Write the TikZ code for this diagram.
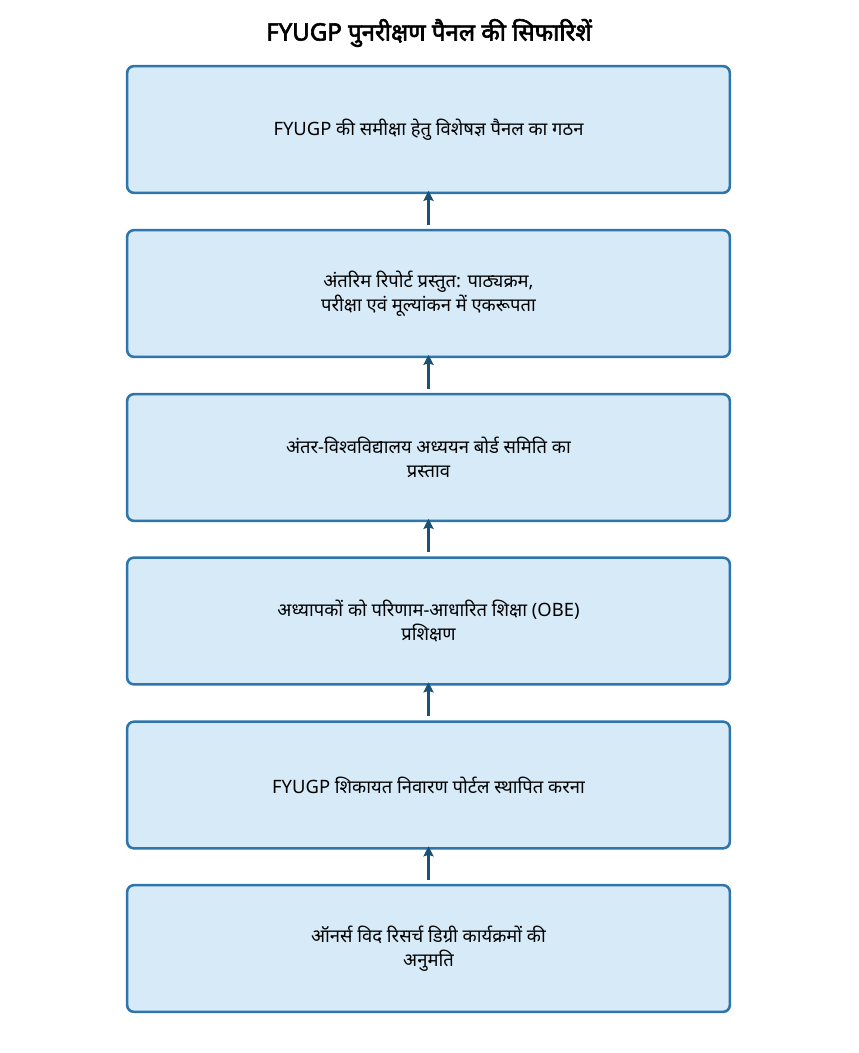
\documentclass[tikz,border=0pt]{standalone}
\usepackage{fontspec}
\setmainfont[Script=Devanagari]{Noto Sans}
\newfontfamily\titlefont[Script=Devanagari, FakeBold=2.6]{Noto Sans}
\usepackage{tikz}
\usetikzlibrary{arrows.meta}
\definecolor{stepblue}{RGB}{46, 117, 172}
\definecolor{stepfill}{RGB}{214, 234, 248}
\definecolor{arrowblue}{RGB}{26, 82, 118}

\tikzset{
  recbox/.style={draw=stepblue, fill=stepfill, line width=1.9pt, rounded corners=5pt, minimum width=452pt, minimum height=95pt, align=center, font=\fontsize{13.8}{18}\selectfont},
  uparrow/.style={-{Stealth[length=7.5pt, width=7.5pt, inset=1pt]}, line width=2.2pt, arrowblue}
}

\begin{document}
\begin{tikzpicture}[x=0.75pt, y=-0.75pt]
  \useasboundingbox (0, 0) rectangle (858, 1053);

  % Title
  \node[font=\titlefont\fontsize{18}{20}\selectfont] (title) at (429, 33) {FYUGP पुनरीक्षण पैनल की सिफारिशें};

  % Steps
  \node[recbox] (panel) at (428.5, 129.5) {FYUGP की समीक्षा हेतु विशेषज्ञ पैनल का गठन};
  \node[recbox] (report) at (428.5, 293.5) {अंतरिम रिपोर्ट प्रस्तुत: पाठ्यक्रम,\\परीक्षा एवं मूल्यांकन में एकरूपता};
  \node[recbox] (board) at (428.5, 457.5) {अंतर-विश्वविद्यालय अध्ययन बोर्ड समिति का\\प्रस्ताव};
  \node[recbox] (obe) at (428.5, 621) {अध्यापकों को परिणाम-आधारित शिक्षा (OBE)\\प्रशिक्षण};
  \node[recbox] (portal) at (428.5, 785) {FYUGP शिकायत निवारण पोर्टल स्थापित करना};
  \node[recbox] (honours) at (428.5, 948.5) {ऑनर्स विद रिसर्च डिग्री कार्यक्रमों की\\अनुमति};

  % Arrows
  \draw[uparrow] ([yshift=3pt]report.north) -- ([yshift=2.5pt]panel.south);
  \draw[uparrow] ([yshift=3pt]board.north) -- ([yshift=2.5pt]report.south);
  \draw[uparrow] ([yshift=3pt]obe.north) -- ([yshift=2.5pt]board.south);
  \draw[uparrow] ([yshift=3pt]portal.north) -- ([yshift=2.5pt]obe.south);
  \draw[uparrow] ([yshift=3pt]honours.north) -- ([yshift=2.5pt]portal.south);
\end{tikzpicture}
\end{document}
